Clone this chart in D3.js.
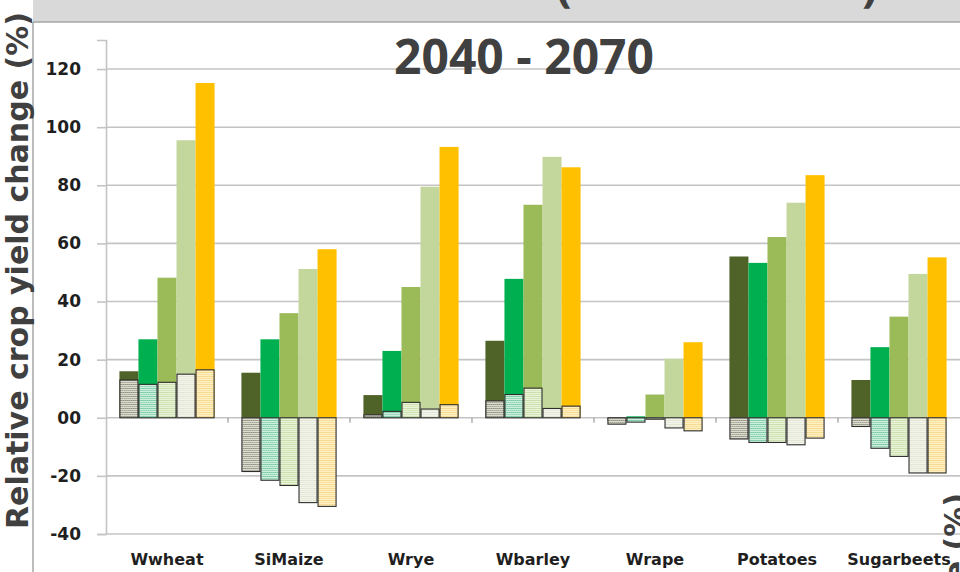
<!DOCTYPE html>
<html>
<head>
<meta charset="utf-8">
<script src="https://cdn.jsdelivr.net/npm/d3@7"></script>
<style>
  body { margin: 0; background: #fff; }
  svg { display: block; }
</style>
</head>
<body>
<div id="chart"></div>
<script>
// crops along the x axis
const categories = ["Wwheat", "SiMaize", "Wrye", "Wbarley", "Wrape", "Potatoes", "Sugarbeets"];
const scenarios = ["s1", "s2", "s3", "s4", "s5"];

// solid bars, one array per scenario (%)
const solidS1 = [16, 15.5, 7.8, 26.5, -1, 55.5, 13];
const solidS2 = [27, 27, 23, 47.8, 0.5, 53.3, 24.3];
const solidS3 = [48.2, 36, 45, 73.3, 8, 62.2, 34.8];
const solidS4 = [95.5, 51.2, 79.5, 89.8, 20.3, 74, 49.5];
const solidS5 = [115.2, 58, 93.2, 86.2, 26, 83.5, 55.2];

// hatched bars drawn in front (%)
const hatchS1 = [13, -18.5, 1, 5.8, -2.2, -7.3, -3];
const hatchS2 = [11.5, -21.5, 2.2, 8, -1.5, -8.5, -10.5];
const hatchS3 = [12.2, -23.3, 5.3, 10.2, -0.5, -8.5, -13.3];
const hatchS4 = [15, -29.2, 3, 3.2, -3.5, -9.3, -19];
const hatchS5 = [16.5, -30.5, 4.5, 4, -4.5, -7, -19];

const yTicks = [-40, -20, 0, 20, 40, 60, 80, 100, 120];

const solidColors = ["#4f6228", "#00b050", "#9bbb59", "#c3d69b", "#ffc000"];
const hatchBg = ["#dcdccf", "#cdeedd", "#e9f3d6", "#f3f4ea", "#fff0c2"];
const hatchDot = ["#4a4a3a", "#22a86e", "#a6c47a", "#cbd3ba", "#e8bf52"];

const width = 960, height = 572;
const plot = {left: 106, right: 960, top: 40, bottom: 534};

const solid = [solidS1, solidS2, solidS3, solidS4, solidS5];
const hatch = [hatchS1, hatchS2, hatchS3, hatchS4, hatchS5];
const rows = categories.map((c, i) => ({
  crop: c,
  solid: scenarios.map((s, j) => ({s: j, value: solid[j][i]})),
  hatch: scenarios.map((s, j) => ({s: j, value: hatch[j][i]}))
}));

const svg = d3.select("#chart").append("svg")
  .attr("width", width)
  .attr("height", height);

// checker patterns for the front bars
const defs = svg.append("defs");
scenarios.forEach((s, j) => {
  const p = defs.append("pattern")
    .attr("id", "hatch" + j)
    .attr("width", 4).attr("height", 4)
    .attr("patternUnits", "userSpaceOnUse");
  p.append("rect").attr("width", 4).attr("height", 4).attr("fill", hatchBg[j]);
  [[0, 0], [2, 0], [1, 2], [3, 2]].forEach(([a, b], k) => {
    p.append("rect").attr("x", a).attr("y", b).attr("width", 1).attr("height", 1)
      .attr("fill", hatchDot[j]).attr("opacity", k < 2 ? 0.85 : 0.6);
  });
});

// page frame
svg.append("rect").attr("x", 33).attr("y", 0).attr("width", width - 33).attr("height", 22)
  .attr("fill", "#d9d9d9");
svg.append("line").attr("x1", 33).attr("x2", width).attr("y1", 22).attr("y2", 22)
  .attr("stroke", "#a6a6a6").attr("stroke-width", 1.5);
svg.append("line").attr("x1", 33).attr("x2", 33).attr("y1", 22).attr("y2", height)
  .attr("stroke", "#a6a6a6").attr("stroke-width", 1.5);

// bits of the neighbouring title that peek into the frame
svg.append("text").attr("x", 556).attr("y", 1).text("(")
  .style("font", "bold 46px 'Open Sans'").attr("fill", "#404040");
svg.append("text").attr("x", 862).attr("y", 1).text(")")
  .style("font", "bold 46px 'Open Sans'").attr("fill", "#404040");

const x0 = d3.scaleBand()
  .domain(categories)
  .range([plot.left, plot.right])
  .paddingInner(0.22)
  .paddingOuter(0.11);
const x1 = d3.scaleBand()
  .domain(d3.range(scenarios.length))
  .range([0, x0.bandwidth()]);
const y = d3.scaleLinear()
  .domain([-40, 130])
  .range([plot.bottom, plot.top]);

// grid
svg.append("g").attr("class", "grid")
  .selectAll("line").data(yTicks).enter()
  .append("line")
    .attr("x1", plot.left).attr("x2", plot.right)
    .attr("y1", d => y(d)).attr("y2", d => y(d))
    .attr("stroke", "#c4c4c4").attr("stroke-width", 1.6);

// y axis
const yAxis = svg.append("g")
  .attr("class", "axis y")
  .attr("transform", `translate(${plot.left},0)`)
  .call(d3.axisLeft(y).tickValues(yTicks).tickSize(9).tickPadding(16)
    .tickFormat(d => d === 0 ? "00" : d));
yAxis.select(".domain").attr("stroke", "#c4c4c4").attr("stroke-width", 1.6);
yAxis.selectAll(".tick line").attr("stroke", "#c4c4c4").attr("stroke-width", 1.6);
yAxis.selectAll(".tick text")
  .style("font", "bold 17px 'DejaVu Sans'")
  .attr("fill", "#1f1f1f");

// small category ticks on the zero line
const step = x0.step();
svg.append("g").selectAll("line").data(categories.slice(1)).enter()
  .append("line")
    .attr("x1", d => x0(d) - step * x0.paddingInner() / 2)
    .attr("x2", d => x0(d) - step * x0.paddingInner() / 2)
    .attr("y1", y(0)).attr("y2", y(0) + 5)
    .attr("stroke", "#9a9a9a").attr("stroke-width", 1.2);

// bars
const groups = svg.append("g").attr("class", "bars")
  .selectAll("g").data(rows).enter()
  .append("g")
    .attr("transform", d => `translate(${x0(d.crop)},0)`);

groups.selectAll("rect.solid").data(d => d.solid).enter()
  .append("rect")
    .attr("class", "solid")
    .attr("x", d => x1(d.s))
    .attr("width", x1.bandwidth())
    .attr("y", d => y(Math.max(0, d.value)))
    .attr("height", d => Math.abs(y(d.value) - y(0)))
    .attr("fill", d => solidColors[d.s]);

groups.selectAll("rect.hatch").data(d => d.hatch).enter()
  .append("rect")
    .attr("class", "hatch")
    .attr("x", d => x1(d.s) + 0.5)
    .attr("width", x1.bandwidth() - 1)
    .attr("y", d => y(Math.max(0, d.value)))
    .attr("height", d => Math.abs(y(d.value) - y(0)))
    .attr("fill", d => `url(#hatch${d.s})`)
    .attr("stroke", "#2e2e2e")
    .attr("stroke-width", 1.1);

// x axis labels
const xAxis = svg.append("g")
  .attr("class", "axis x")
  .attr("transform", `translate(0,${plot.bottom})`)
  .call(d3.axisBottom(x0).tickSize(0).tickPadding(20));
xAxis.select(".domain").remove();
xAxis.selectAll(".tick text")
  .style("font", "bold 16px 'DejaVu Sans'")
  .attr("fill", "#1f1f1f");

// title
svg.append("text")
  .attr("x", 524).attr("y", 74)
  .attr("text-anchor", "middle")
  .style("font", "bold 48px 'Open Sans'")
  .attr("fill", "#404040")
  .text("2040 - 2070");

// y axis title, plus the neighbouring panel's one cut at the right edge
svg.append("text")
  .attr("transform", "translate(28,529) rotate(-90)")
  .style("font", "bold 30px 'DejaVu Sans'")
  .attr("fill", "#404040")
  .text("Relative crop yield change (%)");
svg.append("text")
  .attr("transform", "translate(966,493) rotate(-90)")
  .attr("text-anchor", "end")
  .style("font", "bold 30px 'DejaVu Sans'")
  .attr("fill", "#404040")
  .text("Relative crop yield change (%)");
</script>
</body>
</html>
